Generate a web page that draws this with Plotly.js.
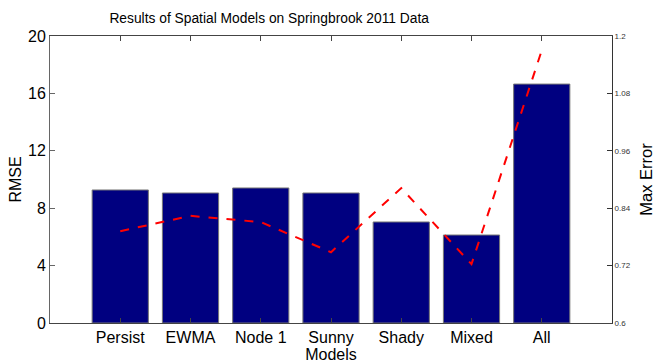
<!DOCTYPE html>
<html>
<head>
<meta charset="utf-8">
<script src="https://cdn.plot.ly/plotly-3.0.1.min.js"></script>
<style>html,body{margin:0;padding:0;background:#fff;}#chart{width:664px;height:363px;}</style>
</head>
<body>
<div id="chart"></div>
<script>
const categories = ["Persist", "EWMA", "Node 1", "Sunny", "Shady", "Mixed", "All"];
const rmse = [9.27, 9.06, 9.41, 9.06, 7.04, 6.13, 16.65];
const maxError = [0.792, 0.824, 0.811, 0.748, 0.882, 0.723, 1.17];
const leftTicks = [0, 4, 8, 12, 16, 20];
const rightTicks = [0.6, 0.72, 0.84, 0.96, 1.08, 1.2];

const font = "'Liberation Sans', Arial, Helvetica, sans-serif";

const traces = [
  {
    type: "bar",
    x: categories,
    y: rmse,
    width: 0.8,
    marker: {color: "#000080", line: {color: "#777777", width: 1}},
    yaxis: "y",
    hoverinfo: "skip"
  },
  {
    type: "scatter",
    mode: "lines",
    x: categories,
    y: maxError,
    line: {color: "#ff0000", width: 2, dash: "dash"},
    yaxis: "y2",
    hoverinfo: "skip"
  }
];

const layout = {
  width: 664,
  height: 363,
  margin: {l: 50, r: 52, t: 36, b: 40},
  paper_bgcolor: "#ffffff",
  plot_bgcolor: "#ffffff",
  showlegend: false,
  font: {family: font, color: "#000"},
  title: {
    text: "Results of Spatial Models on Springbrook 2011 Data",
    font: {family: font, size: 13.8, color: "#000"},
    xref: "paper", x: 0.39, xanchor: "center",
    yref: "container", y: 0.95, yanchor: "middle"
  },
  xaxis: {
    type: "category",
    range: [-1, 7],
    showgrid: false,
    zeroline: false,
    showline: true,
    linecolor: "#444",
    linewidth: 1,
    mirror: "ticks",
    ticks: "inside",
    ticklen: 5,
    tickcolor: "#444",
    tickfont: {family: font, size: 16, color: "#000"},
    title: {text: "Models", font: {family: font, size: 16, color: "#000"}, standoff: 0}
  },
  yaxis: {
    range: [0, 20],
    tickvals: leftTicks,
    ticktext: leftTicks.map(String),
    showgrid: false,
    zeroline: false,
    showline: true,
    linecolor: "#666",
    linewidth: 1,
    ticks: "inside",
    ticklen: 5,
    tickcolor: "#666",
    tickfont: {family: font, size: 16, color: "#000"},
    title: {text: "RMSE", font: {family: font, size: 16, color: "#000"}, standoff: 2}
  },
  yaxis2: {
    overlaying: "y",
    side: "right",
    range: [0.6, 1.2],
    tickvals: rightTicks,
    ticktext: rightTicks.map(String),
    showgrid: false,
    zeroline: false,
    showline: true,
    linecolor: "#333",
    linewidth: 1,
    ticks: "inside",
    ticklen: 5,
    tickcolor: "#333",
    tickfont: {family: font, size: 8, color: "#333"},
    title: {text: "Max Error", font: {family: font, size: 16.5, color: "#000"}, standoff: 10}
  }
};

Plotly.newPlot("chart", traces, layout, {displayModeBar: false, staticPlot: true});
</script>
</body>
</html>
